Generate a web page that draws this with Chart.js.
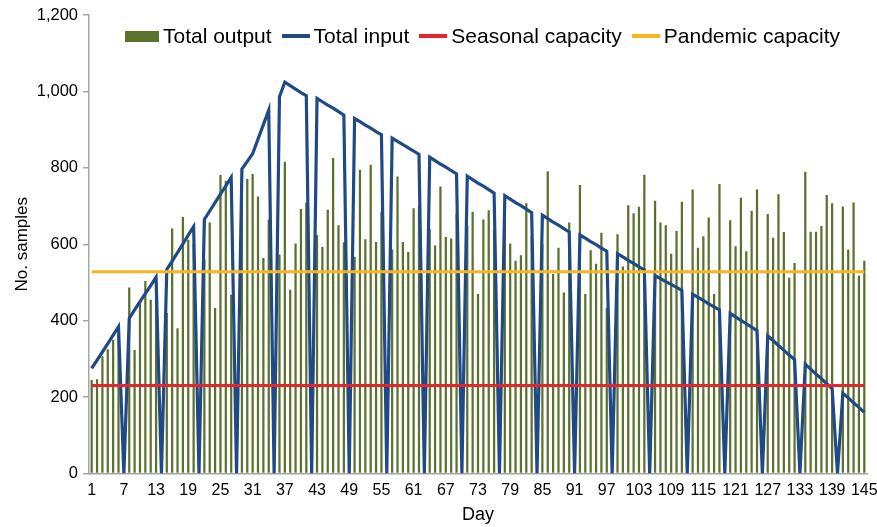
<!DOCTYPE html>
<html>
<head>
<meta charset="utf-8">
<script src="https://cdn.jsdelivr.net/npm/chart.js@4.4.1/dist/chart.umd.min.js"></script>
<style>
    html, body { margin: 0; padding: 0; background: #fff; }
    #wrap { position: relative; width: 877px; height: 527px; }
    #legend {
        position: absolute; top: 23px; left: 125px;
        display: flex; align-items: center;
        font-family: 'Liberation Sans', Arial, sans-serif; font-size: 21px; line-height: 26px;
        color: #000; white-space: nowrap;
    }
    .item { display: flex; align-items: center; margin-right: 10px; }
    .swatch { margin-right: 4px; }
</style>
</head>
<body>
<div id="wrap">
    <canvas id="chart" width="877" height="527"></canvas>
    <div id="legend"></div>
</div>
<script>
// --- Data ---
const days = Array.from({ length: 145 }, (_, i) => String(i + 1));

const totalOutput = [
    245, 247, 307, 325, 350, 365, 0,
    487, 323, 450, 504, 455, 500, 0,
    420, 641, 380, 671, 612, 600, 0,
    560, 657, 433, 781, 766, 468, 0,
    720, 771, 784, 725, 564, 665, 0,
    573, 816, 481, 602, 692, 709, 0,
    624, 593, 690, 826, 650, 605, 0,
    567, 795, 613, 808, 606, 685, 0,
    586, 777, 606, 580, 694, 700, 0,
    640, 597, 751, 619, 615, 680, 0,
    650, 685, 470, 665, 689, 640, 0,
    660, 602, 557, 571, 707, 620, 0,
    600, 791, 522, 591, 474, 657, 0,
    755, 470, 584, 549, 630, 433, 0,
    626, 542, 702, 681, 698, 782, 0,
    714, 657, 650, 575, 635, 711, 0,
    743, 591, 621, 670, 470, 758, 0,
    663, 595, 722, 582, 687, 743, 0,
    679, 617, 731, 632, 512, 551, 0,
    790, 633, 633, 648, 729, 707, 0,
    699, 586, 709, 518, 557
];

const totalInput = [
    275, 297, 318, 340, 362, 384, 0,
    406, 428, 450, 471, 492, 514, 0,
    534, 556, 578, 601, 624, 646, 0,
    665, 687, 709, 731, 753, 775, 0,
    797, 817, 837, 875, 913, 951, 0,
    986, 1024, 1015, 1006, 997, 989, 0,
    982, 973, 964, 956, 947, 938, 0,
    929, 921, 912, 904, 895, 887, 0,
    878, 869, 861, 852, 844, 835, 0,
    828, 819, 810, 802, 793, 784, 0,
    778, 769, 760, 752, 743, 734, 0,
    727, 718, 709, 701, 692, 683, 0,
    676, 667, 658, 650, 641, 632, 0,
    624, 616, 607, 599, 590, 582, 0,
    575, 567, 558, 550, 541, 533, 0,
    518, 510, 502, 495, 487, 479, 0,
    469, 461, 453, 444, 436, 428, 0,
    419, 410, 401, 392, 383, 374, 0,
    360, 348, 335, 323, 310, 298, 0,
    286, 273, 260, 248, 235, 222, 0,
    210, 198, 185, 173, 160
];

const seasonalCapacity = 230;
const pandemicCapacity = 528;

const yTicks = [0, 200, 400, 600, 800, 1000, 1200];

// --- Chart ---
const FONT = "'Liberation Sans', Arial, sans-serif";
const axisGrey = '#a6a6a6';

const chart = new Chart(document.getElementById('chart'), {
    type: 'bar',
    data: {
        labels: days,
        datasets: [
            {
                label: 'Total output',
                data: totalOutput,
                backgroundColor: '#5b722f',
                barPercentage: 0.42,
                categoryPercentage: 1,
                order: 3
            },
            {
                type: 'line',
                label: 'Total input',
                data: totalInput,
                borderColor: '#1f4a86',
                backgroundColor: '#1f4a86',
                borderWidth: 3.2,
                pointRadius: 0,
                tension: 0,
                order: 2
            },
            {
                type: 'line',
                label: 'Seasonal capacity',
                data: days.map(() => seasonalCapacity),
                borderColor: '#e8232a',
                backgroundColor: '#e8232a',
                borderWidth: 3,
                pointRadius: 0,
                order: 1
            },
            {
                type: 'line',
                label: 'Pandemic capacity',
                data: days.map(() => pandemicCapacity),
                borderColor: '#f7b621',
                backgroundColor: '#f7b621',
                borderWidth: 3,
                pointRadius: 0,
                order: 0
            }
        ]
    },
    options: {
        responsive: false,
        animation: false,
        layout: { padding: { top: 15, right: 10, bottom: 0, left: 0 } },
        plugins: {
            legend: { display: false },
            tooltip: { enabled: false }
        },
        scales: {
            x: {
                grid: { display: false, drawTicks: false, tickLength: 0 },
                border: { color: axisGrey, width: 1.5 },
                ticks: {
                    autoSkip: false,
                    maxRotation: 0,
                    padding: 7,
                    color: '#000',
                    font: { family: FONT, size: 16 },
                    callback: (v, i) => (i % 6 === 0 ? days[i] : '')
                },
                title: {
                    display: true,
                    text: 'Day',
                    color: '#000',
                    font: { family: FONT, size: 18 },
                    padding: { top: 0, bottom: 1 }
                },
                afterFit: (scale) => {
                    scale.height = 53.5;
                    scale.paddingRight = 0; // let the last label hang into the right margin
                }
            },
            y: {
                min: 0,
                max: 1200,
                afterBuildTicks: (scale) => { scale.ticks = yTicks.map(v => ({ value: v })); },
                grid: { drawOnChartArea: false, color: axisGrey, tickLength: 6, lineWidth: 1.5 },
                border: { color: axisGrey, width: 1.5 },
                ticks: {
                    padding: 5,
                    color: '#000',
                    font: { family: FONT, size: 16.5 },
                    callback: (v) => v.toLocaleString('en-US')
                },
                title: {
                    display: true,
                    text: 'No. samples',
                    color: '#000',
                    font: { family: FONT, size: 17 },
                    padding: { top: 12, bottom: 0 }
                },
                afterFit: (scale) => { scale.width = 89; }
            }
        }
    }
});

// --- HTML legend (sits inside the plot, like the original) ---
const legend = document.getElementById('legend');
chart.data.datasets.forEach((ds, i) => {
    const item = document.createElement('span');
    item.className = 'item';
    const sw = document.createElement('span');
    sw.className = 'swatch';
    sw.style.display = 'inline-block';
    sw.style.background = ds.type === 'line' ? ds.borderColor : ds.backgroundColor;
    sw.style.width = i === 0 ? '34px' : '28px';
    sw.style.height = i === 0 ? '11px' : '3.5px';
    item.appendChild(sw);
    item.appendChild(document.createTextNode(ds.label));
    legend.appendChild(item);
});
</script>
</body>
</html>
